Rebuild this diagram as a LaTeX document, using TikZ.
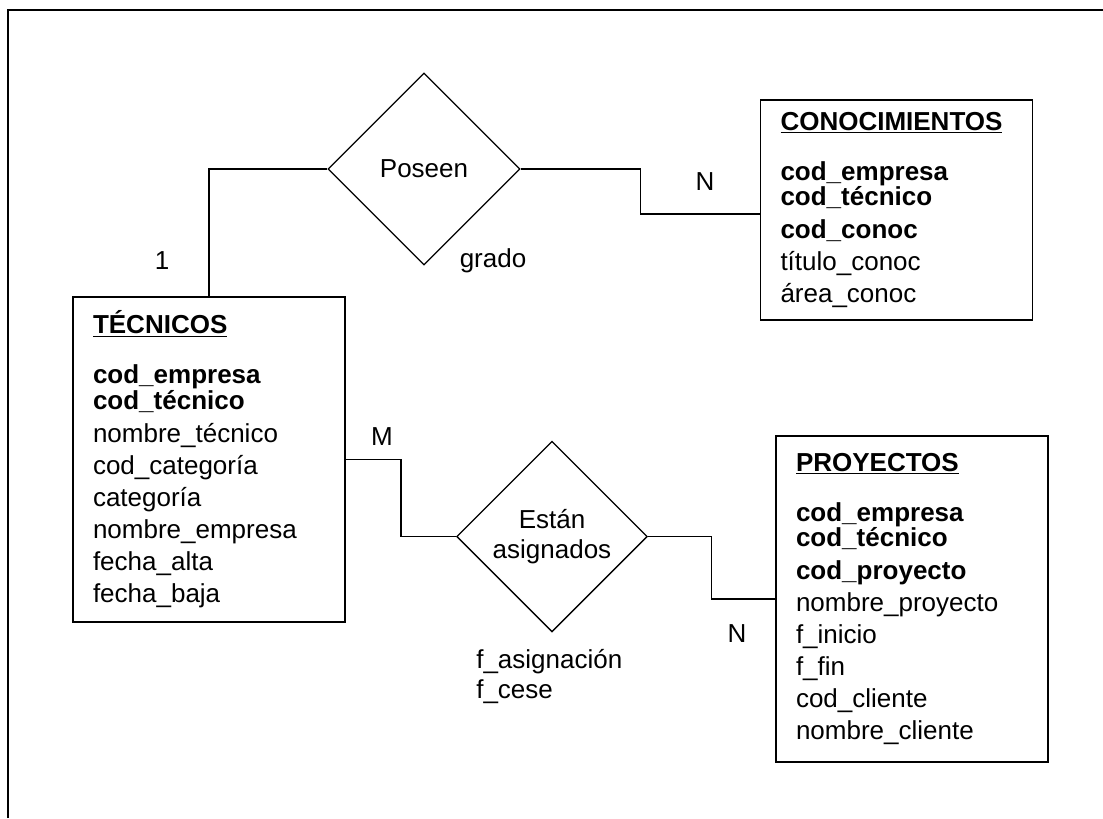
\documentclass[tikz,border=0pt]{standalone}
\usepackage{fontspec}
\setmainfont{Liberation Sans}
\usepackage{tikz}
\usetikzlibrary{shapes.geometric,calc}
\newcommand{\erfont}{\fontsize{19.5pt}{24pt}\selectfont}

\tikzset{
    entidad/.style={draw, line width=1.2pt, inner xsep=15pt, text width=174pt,
        align=left, font=\erfont},
    relacion/.style={diamond, draw, line width=1pt, inner sep=0pt,
        minimum width=143pt, minimum height=143pt, align=center, font=\erfont},
    etiqueta/.style={inner sep=0pt, font=\erfont},
    linea/.style={line width=1pt}
}

\begin{document}
\begin{tikzpicture}[x=0.75pt,y=-0.75pt]
    \useasboundingbox (0,0) rectangle (1103,818);
    % marco
    \draw[line width=1.5pt] (8,818) -- (8,9.5) -- (1103,9.5);

    % entidades
    \node[entidad, minimum height=243.75pt] (tecnicos) at (209,459.5) {
        \underline{\textbf{TÉCNICOS}}\\[13.5pt]
        \textbf{cod\_empresa}\\[-5pt]
        \textbf{cod\_técnico}\\[1pt]
        nombre\_técnico\\
        cod\_categoría\\
        categoría\\
        nombre\_empresa\\
        fecha\_alta\\
        fecha\_baja
    };
    \node[entidad, minimum height=165pt] (conocimientos) at (896.5,210) {
        \underline{\textbf{CONOCIMIENTOS}}\\[13.5pt]
        \textbf{cod\_empresa}\\[-5pt]
        \textbf{cod\_técnico}\\[1pt]
        \textbf{cod\_conoc}\\
        título\_conoc\\
        área\_conoc
    };
    \node[entidad, minimum height=244.5pt] (proyectos) at (912,599) {
        \underline{\textbf{PROYECTOS}}\\[13.5pt]
        \textbf{cod\_empresa}\\[-5pt]
        \textbf{cod\_técnico}\\[1pt]
        \textbf{cod\_proyecto}\\
        nombre\_proyecto\\
        f\_inicio\\
        f\_fin\\
        cod\_cliente\\
        nombre\_cliente
    };

    % relaciones
    \node[relacion, minimum width=144pt, minimum height=144pt] (poseen) at (424,169) {Poseen};
    \node[relacion] (asignados) at (552,536.5) {Están\\[-1.5pt]asignados};

    % conexiones
    \draw[linea] (tecnicos.north) |- (poseen.west);
    \draw[linea] (poseen.east) -| ($(poseen.east)!.5!(conocimientos.west)$) |- ([yshift=-3pt]conocimientos.west);
    \draw[linea] (tecnicos.east) -| ($(tecnicos.east)!.5!(asignados.west)$) |- (asignados.west);
    \draw[linea] (asignados.east) -| ($(asignados.east)!.5!(proyectos.west)$) |- (proyectos.west);

    % cardinalidades y atributos
    \node[etiqueta] (card1) at (162,261) {1};
    \node[etiqueta] (cardN1) at (705,182) {N};
    \node[etiqueta] (grado) at (493,261) {grado};
    \node[etiqueta] (cardM) at (382,437) {M};
    \node[etiqueta] (cardN2) at (737,634) {N};
    \node[etiqueta, anchor=west, align=left] (atributos) at (476,676) {f\_asignación\\[-1.5pt]f\_cese};
\end{tikzpicture}
\end{document}
